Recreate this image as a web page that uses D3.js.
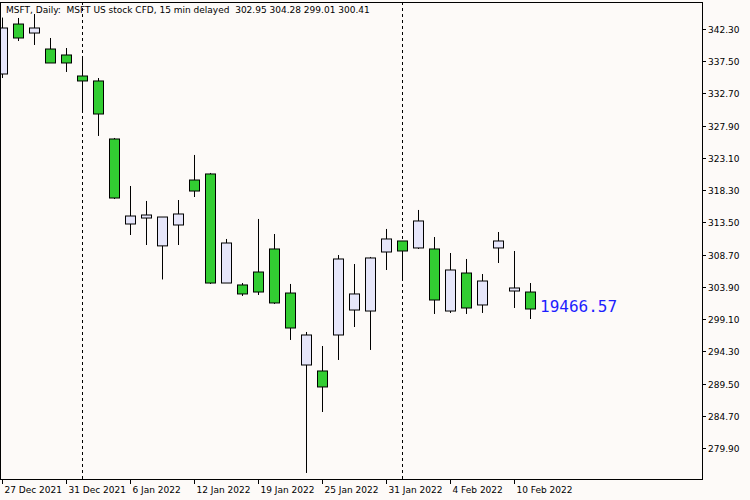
<!DOCTYPE html>
<html><head><meta charset="utf-8">
<script src="https://cdn.jsdelivr.net/npm/d3@7"></script>
<style>body{margin:0;background:#fff}</style></head>
<body><svg id="c" width="750" height="500"></svg>
<script>
const dates=["27 Dec","28 Dec","29 Dec","30 Dec","31 Dec","3 Jan","4 Jan","5 Jan","6 Jan","7 Jan","10 Jan","11 Jan","12 Jan","13 Jan","14 Jan","18 Jan","19 Jan","20 Jan","21 Jan","24 Jan","25 Jan","26 Jan","27 Jan","28 Jan","31 Jan","1 Feb","2 Feb","3 Feb","4 Feb","7 Feb","8 Feb","9 Feb","10 Feb","11 Feb"];
const open =[335.60,343.04,341.70,339.32,338.43,335.30,334.56,325.92,313.26,314.15,310.00,313.11,319.81,320.71,304.47,304.18,306.11,309.54,302.98,292.26,291.37,296.73,300.45,300.30,309.09,310.73,309.69,309.54,300.30,305.96,301.20,309.69,303.28,303.13];
const high =[344.00,343.94,344.53,340.96,339.47,338.28,335.00,326.07,318.92,316.69,313.80,316.83,323.54,320.86,311.03,304.47,314.01,311.77,304.33,297.18,295.09,308.64,307.30,308.35,312.52,310.73,315.35,311.32,308.94,308.05,305.81,312.07,309.24,304.47];
const low  =[335.00,340.51,339.92,338.87,335.90,329.94,326.37,316.98,311.62,310.13,305.00,310.13,317.28,304.33,310.00,302.54,302.69,301.35,295.99,276.18,285.26,293.01,297.92,294.50,306.41,304.92,309.54,299.86,300.01,299.86,300.01,307.45,300.75,299.11];
const close=[342.45,340.96,342.45,337.24,337.24,334.56,329.64,317.13,314.45,314.60,314.30,314.75,318.17,304.47,310.43,302.84,303.13,301.50,297.77,296.73,288.99,308.05,302.84,308.20,311.03,309.24,313.71,301.94,306.41,300.75,304.77,310.73,303.73,300.60];
const yTicks=[342.30,337.50,332.70,327.90,323.10,318.30,313.50,308.70,303.90,299.10,294.30,289.50,284.70,279.90];
const xLabelIdx=[0,4,8,12,16,20,24,28,32];
const xLabels=["27 Dec 2021","31 Dec 2021","6 Jan 2022","12 Jan 2022","19 Jan 2022","25 Jan 2022","31 Jan 2022","4 Feb 2022","10 Feb 2022"];
const sepIdx=[5,25];
const title="MSFT, Daily:  MSFT US stock CFD, 15 min delayed  302.95 304.28 299.01 300.41";
const lastLabel="19466.57";

const svg=d3.select("#c");
const W=702,B=479;
svg.append("rect").attr("width",750).attr("height",500).attr("fill","#fdfaf8");
const x=d3.scaleLinear().domain([0,33]).range([2,530]);
const y=d3.scaleLinear().domain([342.30,279.90]).range([29,448]);
const g=svg.append("g");
const clip=svg.append("clipPath").attr("id","cl").append("rect").attr("x",1).attr("y",1).attr("width",W-1).attr("height",B-1);
const plot=svg.append("g").attr("clip-path","url(#cl)");
sepIdx.forEach(i=>plot.append("line").attr("x1",x(i)+0.5).attr("x2",x(i)+0.5).attr("y1",2).attr("y2",B)
  .attr("stroke","#000").attr("stroke-dasharray","3,3"));
dates.forEach((d,i)=>{
  const cx=Math.round(x(i))+0.5;
  plot.append("line").attr("x1",cx).attr("x2",cx).attr("y1",y(high[i])).attr("y2",y(low[i])).attr("stroke","#000");
  const t=y(Math.max(open[i],close[i])),b=y(Math.min(open[i],close[i]));
  plot.append("rect").attr("x",cx-5).attr("width",10).attr("y",t).attr("height",Math.max(1,b-t))
    .attr("fill",close[i]<open[i]?"#32cd32":"#e6e6fa").attr("stroke","#000");
});
svg.append("rect").attr("x",0.5).attr("y",2.5).attr("width",W).attr("height",B-2).attr("fill","none").attr("stroke","#000");
yTicks.forEach(v=>{
  const yy=Math.round(y(v))+0.5;
  svg.append("line").attr("x1",W).attr("x2",W+4).attr("y1",yy).attr("y2",yy).attr("stroke","#000");
  svg.append("text").attr("x",W+6).attr("y",yy+3).text(v.toFixed(2)).attr("font-family","DejaVu Sans").attr("font-size",9).attr("fill","#000");
});
xLabelIdx.forEach((i,k)=>{
  const xx=Math.round(x(i))+0.5;
  svg.append("line").attr("x1",xx).attr("x2",xx).attr("y1",B).attr("y2",B+5).attr("stroke","#000");
  svg.append("text").attr("x",xx+2).attr("y",B+14).text(xLabels[k]).attr("font-family","DejaVu Sans").attr("font-size",9).attr("fill","#000");
});
svg.append("text").attr("x",6).attr("y",13).text(title).attr("font-family","DejaVu Sans").attr("font-size",9).attr("fill","#000").attr("xml:space","preserve");
svg.append("text").attr("x",540).attr("y",y(close[33])+3).text(lastLabel).attr("font-family","DejaVu Sans Mono").attr("font-size",16).attr("fill","#1e1eff");
</script></body></html>
